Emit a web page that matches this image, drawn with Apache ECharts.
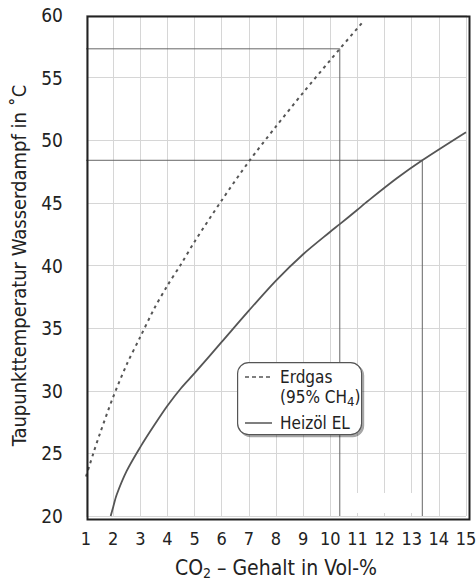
<!DOCTYPE html>
<html>
<head>
<meta charset="utf-8">
<script src="https://cdn.jsdelivr.net/npm/echarts@6/dist/echarts.min.js"></script>
<style>
html,body{margin:0;padding:0;background:#fff;}
#chart{width:476px;height:583px;}
</style>
</head>
<body>
<div id="chart"></div>
<script>
// ---- data ----
const erdgasX = [1, 1.27, 1.5, 2, 2.5, 3, 3.5, 4, 4.5, 5, 6, 7, 8, 9, 10, 10.35, 11.18];
const erdgasY = [23.15, 25, 26.5, 29.5, 32.1, 34.3, 36.5, 38.4, 40.1, 41.9, 45.2, 48.3, 51.1, 53.8, 56.4, 57.3, 59.4];
const heizoelX = [1.91, 2.0, 2.13, 2.5, 3, 3.5, 4, 4.5, 5, 6, 7, 8, 9, 10, 10.35, 11, 11.3, 12.45, 13.39, 15];
const heizoelY = [20, 20.7, 21.7, 23.6, 25.5, 27.2, 28.8, 30.2, 31.4, 33.9, 36.4, 38.8, 40.9, 42.7, 43.3, 44.45, 45.0, 46.96, 48.4, 50.64];
const refErdgasX = [1, 10.35, 10.35];
const refErdgasY = [57.3, 57.3, 20];
const refHeizoelX = [1, 13.39, 13.39];
const refHeizoelY = [48.4, 48.4, 20];
const seriesNames = ['Erdgas', 'Heizöl EL'];
const xName = 'CO{sub|2} – Gehalt in Vol-%';
const yName = 'Taupunkttemperatur Wasserdampf in ˚C';

const zip = (xs, ys) => xs.map((x, i) => [x, ys[i]]);
const FONT = '"DejaVu Sans Condensed", "Liberation Sans", Arial, sans-serif';

const chart = echarts.init(document.getElementById('chart'), null, {renderer: 'svg'});
chart.setOption({
  animation: false,
  backgroundColor: '#fff',
  grid: {left: 86, right: 10, top: 15, bottom: 67, containLabel: false, outerBoundsMode: 'none'},
  xAxis: {
    type: 'value', min: 1, max: 15, interval: 1,
    axisLine: {show: false}, axisTick: {show: false},
    splitLine: {show: true, lineStyle: {color: '#d6d6d6', width: 1}},
    axisLabel: {color: '#222', fontFamily: FONT, fontSize: 18, margin: 13},
    name: xName, nameLocation: 'middle', nameGap: 41,
    nameTextStyle: {color: '#222', fontFamily: FONT, fontSize: 21, verticalAlign: 'top', lineHeight: 22,
      rich: {sub: {fontFamily: FONT, fontSize: 14, color: '#222', lineHeight: 22, padding: [9, 0, 0, 0]}}}
  },
  yAxis: {
    type: 'value', min: 20, max: 60, interval: 5,
    axisLine: {show: false}, axisTick: {show: false},
    splitLine: {show: true, lineStyle: {color: '#d6d6d6', width: 1}},
    axisLabel: {color: '#222', fontFamily: FONT, fontSize: 19, margin: 23},
    name: yName, nameLocation: 'middle', nameGap: 57, nameRotate: 90,
    nameTextStyle: {color: '#222', fontFamily: FONT, fontSize: 20}
  },
  series: [
    {type: 'line', name: 'refErdgas', data: zip(refErdgasX, refErdgasY), symbol: 'none', silent: true,
      lineStyle: {color: '#666', width: 1}, z: 1},
    {type: 'line', name: 'refHeizoel', data: zip(refHeizoelX, refHeizoelY), symbol: 'none', silent: true,
      lineStyle: {color: '#666', width: 1}, z: 1},
    {type: 'line', name: seriesNames[0], data: zip(erdgasX, erdgasY), symbol: 'none', smooth: 0.3,
      lineStyle: {color: '#555', width: 2, type: [3, 4]}, z: 3},
    {type: 'line', name: seriesNames[1], data: zip(heizoelX, heizoelY), symbol: 'none', smooth: 0.3,
      lineStyle: {color: '#555', width: 1.8}, z: 3}
  ],
  graphic: [
    {type: 'rect', left: 357, top: 493, z: 5, shape: {width: 55, height: 20}, style: {fill: '#fff'}},
    {type: 'rect', left: 85, top: 14, z: 20, shape: {width: 382, height: 503}, style: {fill: 'none', stroke: '#222', lineWidth: 2}},
    {type: 'rect', left: 237, top: 362, z: 30, shape: {width: 124, height: 72, r: 11},
      style: {fill: '#fff', stroke: '#555', lineWidth: 1.2, shadowColor: 'rgba(0,0,0,0.35)', shadowOffsetX: 2, shadowOffsetY: 2, shadowBlur: 1}},
    {type: 'line', z: 31, shape: {x1: 245, y1: 377, x2: 272, y2: 377}, style: {stroke: '#555', lineWidth: 1.5, lineDash: [4, 3]}},
    {type: 'line', z: 31, shape: {x1: 245, y1: 423, x2: 272, y2: 423}, style: {stroke: '#555', lineWidth: 1.5}},
    {type: 'text', z: 31, x: 280, y: 377, style: {text: seriesNames[0], fontFamily: FONT, fontSize: 17, fill: '#222', verticalAlign: 'middle'}},
    {type: 'text', z: 31, x: 280, y: 397, style: {text: '(95% CH{sub|4})', fontFamily: FONT, fontSize: 17, fill: '#222', verticalAlign: 'middle',
      rich: {sub: {fontFamily: FONT, fontSize: 13, fill: '#222', padding: [9, 0, 0, 0]}}}},
    {type: 'text', z: 31, x: 280, y: 423, style: {text: seriesNames[1], fontFamily: FONT, fontSize: 17, fill: '#222', verticalAlign: 'middle'}}
  ]
});
</script>
</body>
</html>
